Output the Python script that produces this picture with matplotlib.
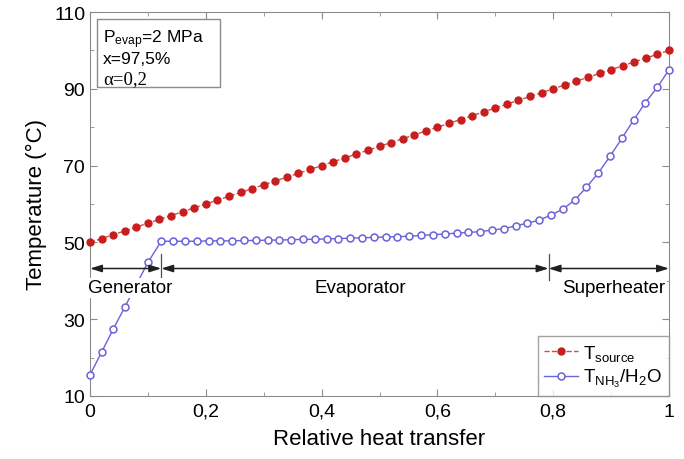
"""
Temperature profiles of heat source and NH3/H2O mixture vs relative heat transfer.
"""

import matplotlib
matplotlib.use("Agg")
import matplotlib.pyplot as plt
from matplotlib.patches import Rectangle

plt.rcParams["font.family"] = ["Liberation Sans", "DejaVu Sans"]
plt.rcParams["mathtext.fontset"] = "custom"
plt.rcParams["mathtext.rm"] = "Liberation Sans"
plt.rcParams["mathtext.it"] = "Liberation Sans:italic"

# Heat source temperature
SOURCE_X = [
    0.00, 0.02, 0.04, 0.06, 0.08, 0.10, 0.12, 0.14, 0.16, 0.18,
    0.20, 0.22, 0.24, 0.26, 0.28, 0.30, 0.32, 0.34, 0.36, 0.38,
    0.40, 0.42, 0.44, 0.46, 0.48, 0.50, 0.52, 0.54, 0.56, 0.58,
    0.60, 0.62, 0.64, 0.66, 0.68, 0.70, 0.72, 0.74, 0.76, 0.78,
    0.80, 0.82, 0.84, 0.86, 0.88, 0.90, 0.92, 0.94, 0.96, 0.98,
    1.00,
]
SOURCE_T = [
    50, 51, 52, 53, 54, 55, 56, 57, 58, 59,
    60, 61, 62, 63, 64, 65, 66, 67, 68, 69,
    70, 71, 72, 73, 74, 75, 76, 77, 78, 79,
    80, 81, 82, 83, 84, 85, 86, 87, 88, 89,
    90, 91, 92, 93, 94, 95, 96, 97, 98, 99,
    100,
]

# Working fluid (NH3/H2O) temperature
FLUID_X = [
    0.000, 0.020, 0.040, 0.060, 0.080, 0.100,
    0.123, 0.143, 0.164, 0.184, 0.205, 0.225, 0.245, 0.266, 0.286, 0.307,
    0.327, 0.347, 0.368, 0.388, 0.409, 0.429, 0.449, 0.470, 0.490, 0.511,
    0.531, 0.551, 0.572, 0.592, 0.613, 0.633, 0.653, 0.674, 0.694, 0.715,
    0.735, 0.755, 0.776, 0.796, 0.817, 0.837, 0.857, 0.878, 0.898, 0.919,
    0.939, 0.959, 0.980, 1.000,
]
FLUID_T = [
    15.5, 21.4, 27.4, 33.1, 39.0, 44.8,
    50.3, 50.3, 50.3, 50.3, 50.4, 50.4, 50.4, 50.5, 50.5, 50.6,
    50.6, 50.7, 50.8, 50.8, 50.9, 51.0, 51.1, 51.2, 51.3, 51.4,
    51.5, 51.6, 51.8, 52.0, 52.2, 52.4, 52.6, 52.8, 53.2, 53.6,
    54.3, 55.0, 55.8, 57.1, 58.7, 61.0, 64.3, 68.1, 72.4, 77.2,
    81.9, 86.4, 90.4, 95.0,
]

# Heat exchanger sections: boundaries and labels
SECTION_EDGES = [0.0, 0.123, 0.792, 1.0]
SECTION_LABELS = ["Generator", "Evaporator", "Superheater"]
SECTION_LABEL_X = [0.07, 0.466, 0.905]

SOURCE_COLOR = "#c81e1e"
FLUID_COLOR = "#6a62d8"
FRAME_COLOR = "#8c8c8c"


def main() -> None:
    fig = plt.figure(figsize=(6.84, 4.60), dpi=100)
    ax = fig.add_axes([0.1316, 0.137, 0.8465, 0.8347])

    ax.plot(SOURCE_X, SOURCE_T, linestyle="--", color="#c85050", linewidth=1.0,
            marker="o", markersize=5, markerfacecolor=SOURCE_COLOR,
            markeredgecolor=SOURCE_COLOR, label=r"T$_{\mathrm{source}}$",
            zorder=3, clip_on=False)
    ax.plot(FLUID_X, FLUID_T, linestyle="-", color=FLUID_COLOR, linewidth=1.0,
            marker="o", markersize=5, markerfacecolor="white",
            markeredgecolor=FLUID_COLOR, markeredgewidth=1.1,
            label=r"T$_{\mathrm{NH}_3}$/H$_2$O", zorder=3, clip_on=False)

    # Section arrows
    y_arrow = 43.2
    for a, b in zip(SECTION_EDGES[:-1], SECTION_EDGES[1:]):
        ax.annotate("", xy=(b, y_arrow), xytext=(a, y_arrow),
                    arrowprops=dict(arrowstyle="<|-|>,head_length=0.7,head_width=0.22",
                                    color="#202020", lw=1.1,
                                    shrinkA=0, shrinkB=0),
                    zorder=4)
    for edge in SECTION_EDGES[1:-1]:
        ax.plot([edge, edge], [40.3, 47.0], color="#505050", linewidth=0.9, zorder=4)
    for label, lx in zip(SECTION_LABELS, SECTION_LABEL_X):
        ax.text(lx, 38.2, label, ha="center", va="center", fontsize=13.5,
                bbox=dict(facecolor="white", edgecolor="none", pad=1.0),
                zorder=5)

    # Parameter box
    ax.add_patch(Rectangle((0.012, 0.805), 0.213, 0.177, transform=ax.transAxes,
                           facecolor="white", edgecolor=FRAME_COLOR,
                           linewidth=1.0, zorder=5))
    ax.text(0.022, 0.930, r"P$_{\mathrm{evap}}$=2 MPa", transform=ax.transAxes,
            fontsize=12.5, va="center", zorder=6)
    ax.text(0.022, 0.878, "x=97,5%", transform=ax.transAxes,
            fontsize=12.5, va="center", zorder=6)
    ax.text(0.022, 0.826, "\u03b1=0,2", transform=ax.transAxes,
            fontsize=13.5, va="center", family=["Liberation Serif", "DejaVu Serif"],
            zorder=6)

    ax.set_xlim(0, 1)
    ax.set_ylim(10, 110)
    ax.set_xticks([0, 0.2, 0.4, 0.6, 0.8, 1.0])
    ax.set_xticklabels(["0", "0,2", "0,4", "0,6", "0,8", "1"])
    ax.set_xticks([0.1, 0.3, 0.5, 0.7, 0.9], minor=True)
    ax.set_yticks([10, 30, 50, 70, 90, 110])
    ax.set_yticks([20, 40, 60, 80, 100], minor=True)
    ax.tick_params(which="both", direction="in", top=True, right=True,
                   color=FRAME_COLOR, labelsize=14)
    ax.tick_params(which="major", length=5)
    ax.tick_params(which="minor", length=3)
    ax.tick_params(axis="x", pad=5)
    for spine in ax.spines.values():
        spine.set_color(FRAME_COLOR)

    ax.set_xlabel("Relative heat transfer", fontsize=16, labelpad=6)
    ax.set_ylabel("Temperature (\u00b0C)", fontsize=16, labelpad=5)

    leg = ax.legend(loc="lower right", borderaxespad=0, fancybox=False,
                    fontsize=13.5, handlelength=1.8, handletextpad=0.3,
                    borderpad=0.35, labelspacing=0.25)
    leg.get_frame().set_edgecolor(FRAME_COLOR)
    leg.get_frame().set_linewidth(1.0)

    fig.savefig("out.png", dpi=100)


if __name__ == "__main__":
    main()
